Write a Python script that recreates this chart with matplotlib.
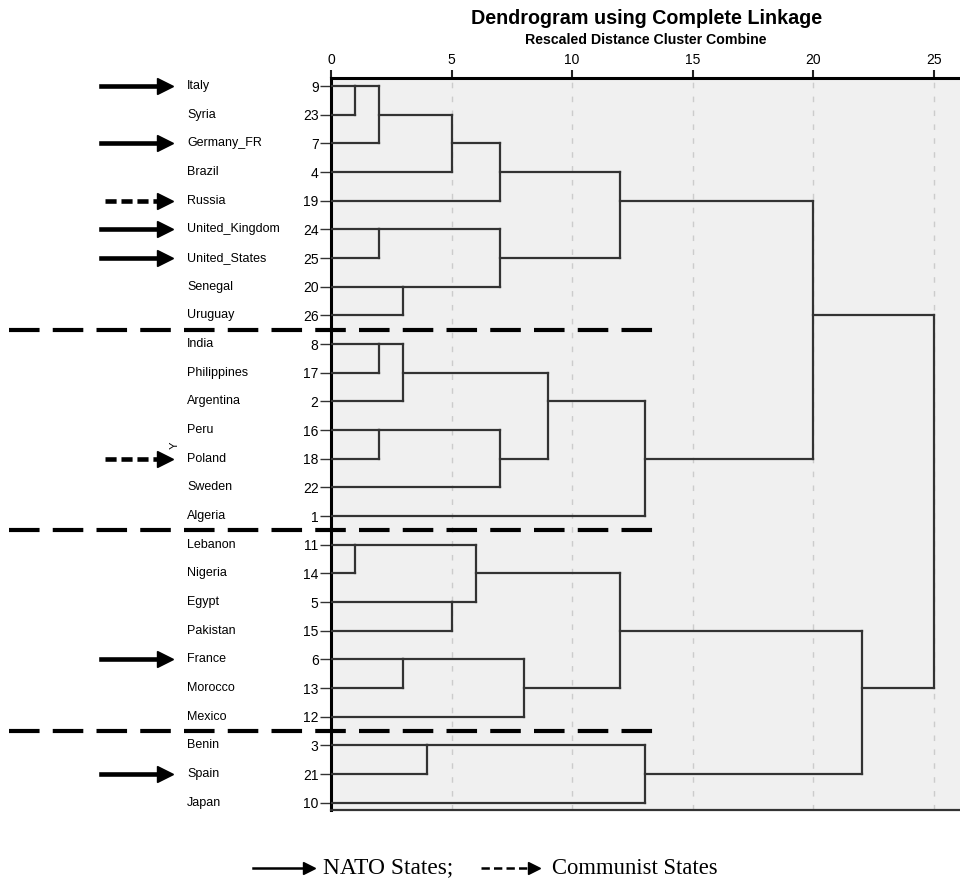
import matplotlib
matplotlib.use('Agg')
import matplotlib.pyplot as plt
import matplotlib.transforms as mtransforms
from matplotlib.lines import Line2D

plt.rcParams['font.family'] = 'Liberation Sans'
plt.rcParams['lines.scale_dashes'] = False

# leaves, top to bottom, with SPSS case numbers
countries = ['Italy', 'Syria', 'Germany_FR', 'Brazil', 'Russia', 'United_Kingdom',
             'United_States', 'Senegal', 'Uruguay', 'India', 'Philippines', 'Argentina',
             'Peru', 'Poland', 'Sweden', 'Algeria', 'Lebanon', 'Nigeria', 'Egypt',
             'Pakistan', 'France', 'Morocco', 'Mexico', 'Benin', 'Spain', 'Japan']
case_ids = [9, 23, 7, 4, 19, 24, 25, 20, 26, 8, 17, 2, 16, 18, 22, 1, 11, 14, 5,
            15, 6, 13, 12, 3, 21, 10]

# merges: (cluster a, cluster b, rescaled distance); new clusters get ids 26, 27, ...
merges = [(0, 1, 1), (26, 2, 2), (27, 3, 5), (28, 4, 7), (5, 6, 2), (7, 8, 3),
          (30, 31, 7), (29, 32, 12), (9, 10, 2), (34, 11, 3), (12, 13, 2),
          (36, 14, 7), (35, 37, 9), (38, 15, 13), (33, 39, 20), (16, 17, 1),
          (18, 19, 5), (41, 42, 6), (20, 21, 3), (44, 22, 8), (43, 45, 12),
          (23, 24, 4), (47, 25, 13), (46, 48, 22), (40, 49, 25)]

nato = ['Italy', 'Germany_FR', 'United_Kingdom', 'United_States', 'France', 'Spain']
communist = ['Russia', 'Poland']
group_ends = ['Uruguay', 'Algeria', 'Mexico']

W, H = 960, 892
fig = plt.figure(figsize=(W / 100, H / 100), dpi=100)
ax = fig.add_axes([331 / W, 1 - 810 / H, 629 / W, 732 / H])
ax.set_facecolor('#f0f0f0')

line_c = '#333333'
n = len(countries)
row = {i: i for i in range(n)}
height = {i: 0.0 for i in range(n)}
for k, (a, b, d) in enumerate(merges):
    for c in (a, b):
        ax.plot([height[c], d], [row[c], row[c]], color=line_c, lw=1.6,
                solid_capstyle='projecting', zorder=3)
    ax.plot([d, d], [row[a], row[b]], color=line_c, lw=1.6,
            solid_capstyle='projecting', zorder=3)
    row[n + k] = (row[a] + row[b]) // 2
    height[n + k] = d

for x in range(5, 30, 5):
    ax.axvline(x, color='#cccccc', lw=1, dashes=(4, 6), zorder=1)

ax.set_xlim(0, 26.08)
ax.set_ylim(25.25, -0.28)
ax.xaxis.tick_top()
ax.set_xticks(range(0, 30, 5))
ax.tick_params(axis='x', length=6, width=1.5, pad=2, labelsize=10, color='#222222')
ax.set_yticks(range(n))
ax.set_yticklabels(case_ids)
ax.tick_params(axis='y', length=8, width=1, pad=1, labelsize=10, color='#333333')
ax.spines['right'].set_visible(False)
ax.spines['left'].set_linewidth(2.2)
ax.spines['top'].set_linewidth(2.2)
ax.spines['bottom'].set_linewidth(1.6)
ax.spines['bottom'].set_color('#333333')

blend = mtransforms.blended_transform_factory(fig.transFigure, ax.transData)

for i, name in enumerate(countries):
    ax.text(187 / W, i, name, transform=blend, ha='left', va='center', fontsize=9)

# arrows marking NATO / communist states
for name in nato + communist:
    i = countries.index(name)
    ls = '-' if name in nato else (0, (8, 3.5))
    x0 = 101 / W if name in nato else 105 / W
    ax.add_line(Line2D([x0, 158 / W], [i, i], transform=blend, color='black',
                       lw=3.3, linestyle=ls, clip_on=False))
    ax.add_line(Line2D([165 / W], [i], transform=blend, marker='>', markersize=11,
                       color='black', clip_on=False))

# group separators
for name in group_ends:
    y = countries.index(name) + 0.5
    ax.add_line(Line2D([9 / W, 660 / W], [y, y], transform=blend, color='black',
                       lw=3, dashes=(22, 9.5), clip_on=False, zorder=5))

fig.text(175 / W, 1 - 445 / H, 'Y', rotation=90, fontsize=8, ha='center', va='center')

fig.text(647 / W, 1 - 18 / H, 'Dendrogram using Complete Linkage', ha='center',
         va='center', fontsize=14.2, fontweight='bold')
fig.text(646 / W, 1 - 40 / H, 'Rescaled Distance Cluster Combine', ha='center',
         va='center', fontsize=10.2, fontweight='bold')

# legend at the bottom
ly = 1 - 868 / H
fig.add_artist(Line2D([253 / W, 305 / W], [ly, ly], color='black', lw=1.8))
fig.add_artist(Line2D([309 / W], [ly], marker='>', markersize=8, color='black'))
fig.text(323 / W, ly, 'NATO States;', family='Liberation Serif', fontsize=16.8,
         ha='left', va='center')
fig.add_artist(Line2D([481 / W, 530 / W], [ly, ly], color='black', lw=1.8,
                      dashes=(6, 3)))
fig.add_artist(Line2D([534 / W], [ly], marker='>', markersize=8, color='black'))
fig.text(552 / W, ly, 'Communist States', family='Liberation Serif', fontsize=16.3,
         ha='left', va='center')

fig.savefig('out.png', dpi=100)
